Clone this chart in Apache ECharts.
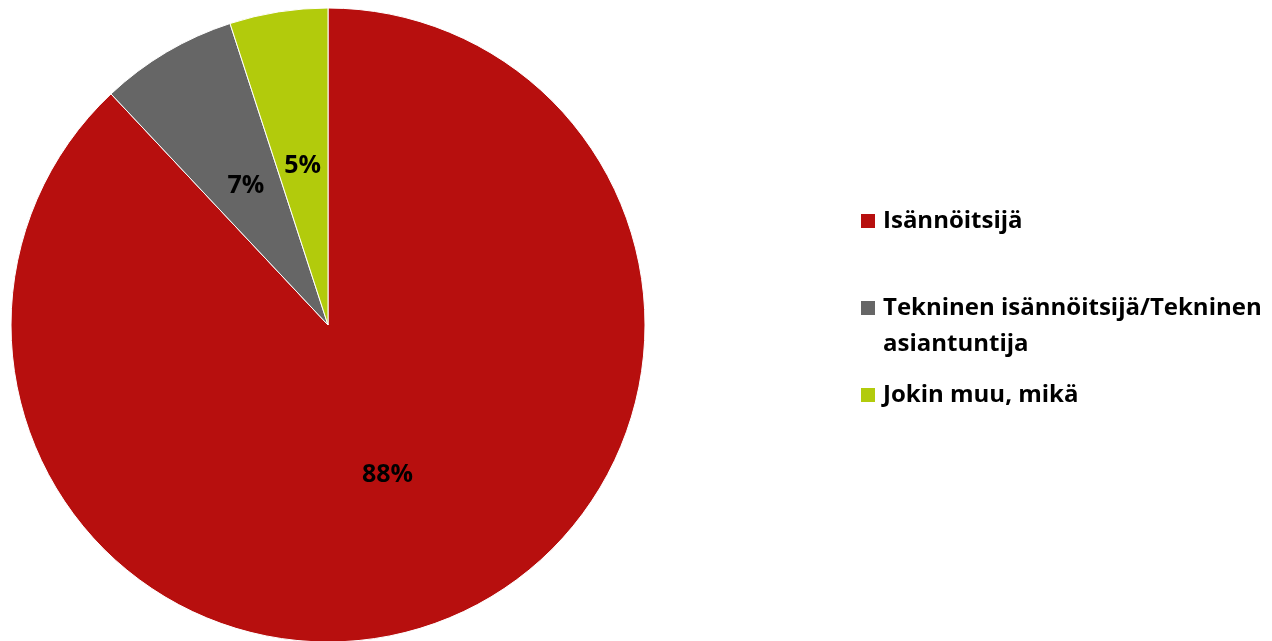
<!DOCTYPE html>
<html>
<head>
<meta charset="utf-8">
<script src="https://cdn.jsdelivr.net/npm/echarts@6/dist/echarts.min.js"></script>
<style>
  html, body { margin: 0; padding: 0; background: #ffffff; }
  #chart { width: 1272px; height: 641px; }
</style>
</head>
<body>
<div id="chart"></div>
<script>
// Responses: who handles the matter
const categories = ['Isännöitsijä', 'Tekninen isännöitsijä/Tekninen asiantuntija', 'Jokin muu, mikä'];
// The leading empty line keeps the marker level with the first text line
const legendLabels = ['Isännöitsijä', '\nTekninen isännöitsijä/Tekninen\nasiantuntija', 'Jokin muu, mikä'];
const shares = [88, 7, 5];
const colors = ['#B70F0E', '#666666', '#B2CB0C'];

const FONT = '"Open Sans"';

const pieData = categories.map((name, i) => ({
  name: name,
  value: shares[i],
  itemStyle: { color: colors[i] }
}));

// One legend block per entry so each row sits at its own height
const legendTops = [203, 254, 377];
const legends = categories.map((name, i) => ({
  orient: 'vertical',
  left: 859,
  top: legendTops[i],
  padding: 0,
  icon: 'rect',
  itemWidth: 16,
  itemHeight: 16,
  selectedMode: false,
  data: [name],
  formatter: () => legendLabels[i],
  textStyle: {
    fontFamily: FONT,
    fontWeight: 'bold',
    fontSize: 24,
    color: '#000000',
    lineHeight: 36,
    padding: [0, 0, 0, 2]
  }
}));

const chart = echarts.init(document.getElementById('chart'), null, { renderer: 'canvas' });
chart.setOption({
  animation: false,
  backgroundColor: '#ffffff',
  legend: legends,
  series: [{
    type: 'pie',
    center: [328, 325],
    radius: 317,
    startAngle: 90,
    clockwise: true,
    data: pieData,
    itemStyle: { borderColor: '#ffffff', borderWidth: 1 },
    label: {
      show: true,
      position: 'inside',
      formatter: '{c}%',
      fontFamily: FONT,
      fontWeight: 'bold',
      fontSize: 25,
      color: '#000000'
    },
    labelLine: { show: false },
    emphasis: { disabled: true }
  }]
});
</script>
</body>
</html>
